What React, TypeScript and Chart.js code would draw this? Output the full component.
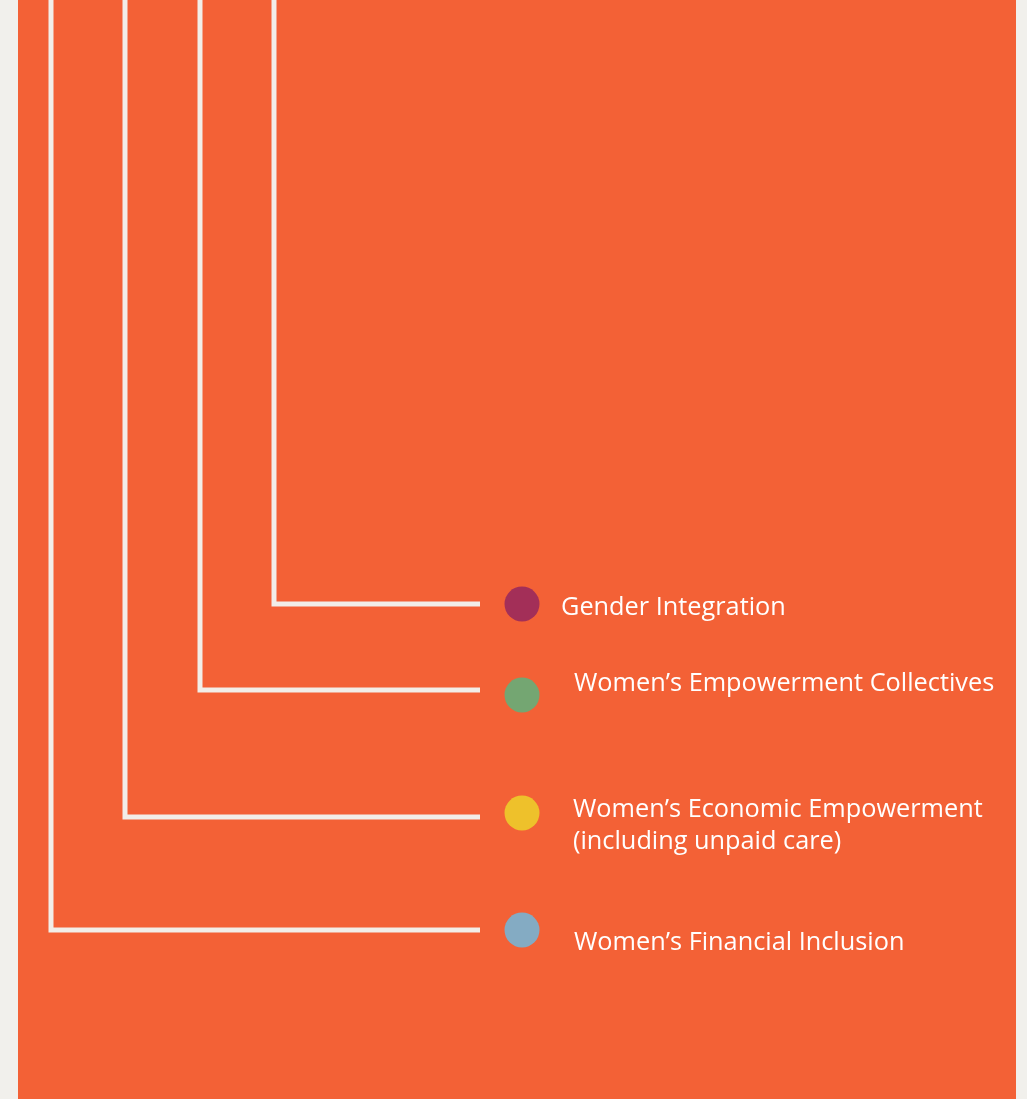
import React, { useEffect, useRef } from "react";
import { Chart, registerables } from "chart.js";

Chart.register(...registerables);

// ---- data (in the chart's own coordinate units) ----
const categories = [
  "Gender Integration",
  "Women’s Empowerment Collectives",
  "Women’s Economic Empowerment",
  "Women’s Financial Inclusion",
];
const subLabels = ["", "", "(including unpaid care)", ""];
const branchX = [274, 200, 125, 51];
const rowY = [604, 690, 817, 930];
const branchEndX = 480;
const dotX = 522;
const dotY = [604, 695, 813, 930];
const labelX = [561, 574, 573, 574];
const labelY = [608, 684, 810, 943];
const dotColors = ["#A32F58", "#74A672", "#EEC12B", "#84ABC3"];

const BG = "#F1F0EC";
const ORANGE = "#F36136";
const CREAM = "#F2EEE8";
const panelLeft = 18;
const panelRight = 1016;

const W = 1027;
const H = 1099;

const backgroundPlugin = {
  id: "bgPanel",
  beforeDraw(chart: any) {
    const { ctx, scales } = chart;
    ctx.save();
    ctx.fillStyle = BG;
    ctx.fillRect(0, 0, chart.width, chart.height);
    const x0 = scales.x.getPixelForValue(panelLeft);
    const x1 = scales.x.getPixelForValue(panelRight);
    ctx.fillStyle = ORANGE;
    ctx.fillRect(x0, 0, x1 - x0, chart.height);
    ctx.restore();
  },
};

const labelPlugin = {
  id: "labels",
  afterDatasetsDraw(chart: any) {
    const { ctx, scales } = chart;
    ctx.save();
    ctx.fillStyle = "#FFFFFF";
    ctx.font = "25.3px 'Open Sans', 'Noto Sans', sans-serif";
    ctx.textBaseline = "middle";
    ctx.textAlign = "left";
    categories.forEach((c, i) => {
      const x = scales.x.getPixelForValue(labelX[i]);
      const y = scales.y.getPixelForValue(labelY[i]);
      ctx.fillText(c, x, y);
      if (subLabels[i]) {
        ctx.fillText(subLabels[i], x, y + 32);
      }
    });
    ctx.restore();
  },
};

export default function App() {
  const ref = useRef<HTMLCanvasElement>(null);
  useEffect(() => {
    document.body.style.margin = "0";
    const datasets: any[] = [];
    categories.forEach((c, i) => {
      datasets.push({
        type: "line",
        label: c + " branch",
        data: [
          { x: branchX[i], y: -20 },
          { x: branchX[i], y: rowY[i] },
          { x: branchEndX, y: rowY[i] },
        ],
        borderColor: CREAM,
        borderWidth: 5,
        borderJoinStyle: "miter",
        borderCapStyle: "butt",
        pointRadius: 0,
        tension: 0,
        fill: false,
        clip: false,
      });
    });
    categories.forEach((c, i) => {
      datasets.push({
        type: "scatter",
        label: c,
        data: [{ x: dotX, y: dotY[i] }],
        backgroundColor: dotColors[i],
        borderWidth: 0,
        pointRadius: 17.5,
        pointHoverRadius: 17.5,
        clip: false,
      });
    });
    const chart = new Chart(ref.current!, {
      type: "scatter",
      data: { datasets },
      options: {
        animation: false,
        responsive: false,
        devicePixelRatio: 1,
        layout: { padding: 0, autoPadding: false },
        events: [],
        plugins: {
          legend: { display: false },
          tooltip: { enabled: false },
        },
        scales: {
          x: { type: "linear", min: 0, max: W, display: false },
          y: { type: "linear", min: 0, max: H, reverse: true, display: false },
        },
      },
      plugins: [backgroundPlugin, labelPlugin],
    } as any);
    return () => chart.destroy();
  }, []);
  return (
    <div style={{ position: "absolute", left: 0, top: 0, width: W, height: H }}>
      <canvas ref={ref} width={W} height={H} style={{ display: "block" }} />
    </div>
  );
}
